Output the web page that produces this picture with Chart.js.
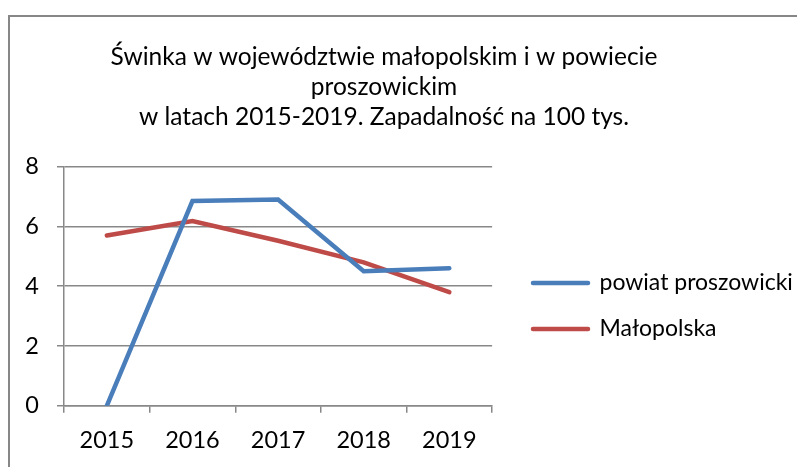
<!DOCTYPE html>
<html>
<head>
<meta charset="utf-8">
<script src="https://cdn.jsdelivr.net/npm/chart.js@4"></script>
<style>
    html, body { margin: 0; padding: 0; background: #fff; }
    #wrap { width: 797px; height: 467px; position: relative; }
</style>
</head>
<body>
<div id="wrap"><canvas id="chartSwinka"></canvas></div>
<script>
const years = ["2015", "2016", "2017", "2018", "2019"];
const powiatProszowicki = [0, 6.85, 6.9, 4.5, 4.6];
const malopolska = [5.7, 6.18, 5.52, 4.8, 3.8];
const tytul = [
    "Świnka w województwie małopolskim i w powiecie",
    "proszowickim",
    "w latach 2015-2019. Zapadalność na 100 tys.",
];

const fontName = "Lato, 'Open Sans', sans-serif";
const gridColor = "#888888";
const lineW = 4.5;

// ramka wykresu (lewa i gorna krawedz)
const ramka = {
    id: "ramka",
    beforeDraw(chart) {
        const ctx = chart.ctx;
        ctx.save();
        ctx.strokeStyle = "#878787";
        ctx.lineWidth = 2;
        ctx.beginPath();
        ctx.moveTo(9, chart.height);
        ctx.lineTo(9, 16);
        ctx.lineTo(chart.width, 16);
        ctx.stroke();
        ctx.restore();
    },
};

// przesuniecie legendy i tytulu jak w oryginale
const pozycje = {
    id: "pozycje",
    afterLayout(chart) {
        const lg = chart.legend;
        const w = lg.width, h = lg.height;
        lg.left = 510;
        lg.right = lg.left + w;
        lg.top = 306 - h / 2;
        lg.bottom = lg.top + h;

        const t = chart.titleBlock;
        t.left = 0;
        t.right = 768;
    },
};

const data = {
    labels: years,
    datasets: [{
        label: "powiat proszowicki",
        data: powiatProszowicki,
        borderColor: "#4A7EBB",
        backgroundColor: "#4A7EBB",
        pointBorderColor: "#4A7EBB",
    }, {
        label: "Małopolska",
        data: malopolska,
        borderColor: "#BE4B48",
        backgroundColor: "#BE4B48",
        pointBorderColor: "#BE4B48",
    }, ],
};

new Chart(document.getElementById("chartSwinka"), {
    type: "line",
    data: data,
    plugins: [ramka, pozycje],
    options: {
        responsive: true,
        maintainAspectRatio: false,
        animation: false,
        layout: { padding: { left: 0, right: 12, top: 0, bottom: -2 } },
        elements: {
            line: { borderWidth: lineW, tension: 0, borderCapStyle: "round", borderJoinStyle: "miter" },
            point: { radius: 0, hoverRadius: 0 },
        },
        plugins: {
            title: {
                display: true,
                text: tytul,
                color: "#000",
                font: { family: fontName, size: 24.5, weight: "normal", lineHeight: 1.22 },
                padding: { top: 42, bottom: 35 },
            },
            legend: {
                position: "right",
                maxWidth: 400,
                labels: {
                    color: "#000",
                    font: { family: fontName, size: 23 },
                    usePointStyle: true,
                    pointStyle: "line",
                    pointStyleWidth: 55,
                    boxWidth: 55,
                    padding: 23,
                    generateLabels(chart) {
                        const items = Chart.defaults.plugins.legend.labels.generateLabels(chart);
                        items.forEach((it) => {
                            it.lineWidth = lineW;
                            it.lineCap = "round";
                        });
                        return items;
                    },
                },
            },
            tooltip: { enabled: false },
        },
        scales: {
            x: {
                offset: true,
                grid: {
                    offset: true,
                    drawOnChartArea: false,
                    drawTicks: true,
                    tickLength: 7,
                    color: gridColor,
                    lineWidth: 1.5,
                },
                border: { color: gridColor, width: 1.5 },
                ticks: {
                    color: "#000",
                    font: { family: fontName, size: 23.5 },
                    padding: 14,
                    maxRotation: 0,
                },
            },
            y: {
                min: 0,
                max: 8,
                afterFit(scale) { scale.width = 64; },
                grid: {
                    color: gridColor,
                    lineWidth: 1.5,
                    tickLength: 7,
                },
                border: { color: gridColor, width: 1.5 },
                ticks: {
                    stepSize: 2,
                    color: "#000",
                    font: { family: fontName, size: 23.5 },
                    padding: 18,
                },
            },
        },
    },
});
</script>
</body>
</html>
